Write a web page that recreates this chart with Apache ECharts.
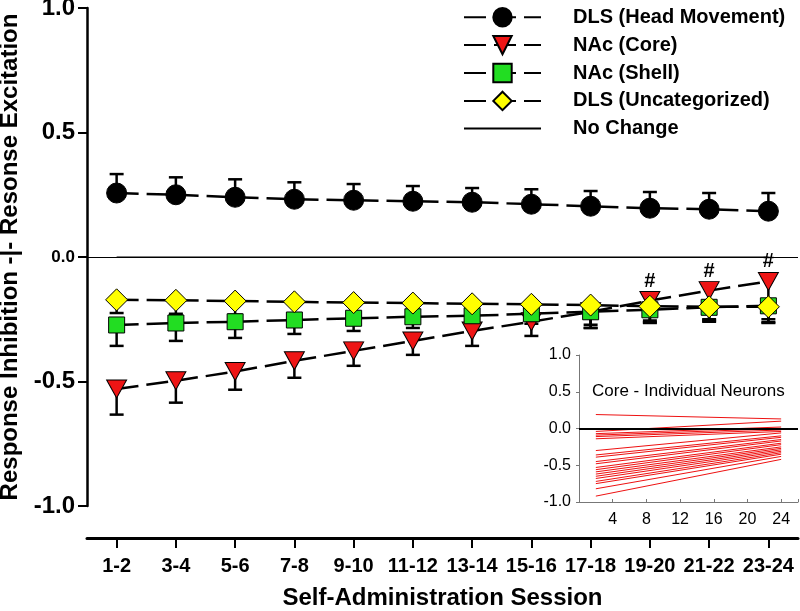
<!DOCTYPE html>
<html>
<head>
<meta charset="utf-8">
<script src="https://cdn.jsdelivr.net/npm/echarts@6/dist/echarts.min.js"></script>
<style>
html,body{margin:0;padding:0;background:#fff;}
#chart{width:800px;height:611px;}
</style>
</head>
<body>
<div id="chart"></div>
<script>
// ---- Data ----
var categories = ['1-2','3-4','5-6','7-8','9-10','11-12','13-14','15-16','17-18','19-20','21-22','23-24'];
var headMean   = [0.257, 0.250, 0.240, 0.232, 0.228, 0.224, 0.220, 0.212, 0.204, 0.196, 0.192, 0.184];
var headErrTop = [0.333, 0.320, 0.312, 0.300, 0.293, 0.285, 0.277, 0.272, 0.265, 0.261, 0.257, 0.257];
var coreMean   = [-0.530, -0.497, -0.460, -0.417, -0.377, -0.337, -0.297, -0.260, -0.220, -0.175, -0.135, -0.098];
var coreErrLow = [-0.633, -0.585, -0.533, -0.485, -0.437, -0.393, -0.357, -0.317, -0.285, -0.262, -0.255, -0.265];
var shellMean  = [-0.273, -0.265, -0.260, -0.253, -0.246, -0.240, -0.236, -0.228, -0.220, -0.212, -0.202, -0.196];
var shellErrLow= [-0.357, -0.337, -0.325, -0.309, -0.297, -0.285, -0.275, -0.268, -0.285, -0.265, -0.260, -0.262];
var uncMean    = [-0.172, -0.174, -0.177, -0.180, -0.183, -0.185, -0.188, -0.190, -0.193, -0.198, -0.200, -0.200];
var uncErrLow  = [-0.225, -0.228, -0.232, -0.235, -0.238, -0.240, -0.245, -0.250, -0.272, -0.255, -0.250, -0.250];
var sigIndex   = [9, 10, 11];
var yTicks     = [-1.0, -0.5, 0.0, 0.5, 1.0];
// Inset: individual core neurons, value at session 2 and session 24
var neuronX     = [2, 24];
var neuronStart = [0.19, -0.04, -0.07, -0.09, -0.11, -0.14, -0.30, -0.36, -0.39, -0.45, -0.48, -0.53, -0.56, -0.59, -0.62, -0.65, -0.68, -0.72, -0.75, -0.82, -0.92];
var neuronEnd   = [0.13, 0.10, 0.02, 0.00, -0.02, -0.04, -0.06, -0.10, -0.12, -0.15, -0.17, -0.20, -0.22, -0.25, -0.27, -0.29, -0.31, -0.33, -0.35, -0.38, -0.42];

var FONT = '"Liberation Sans", Arial, sans-serif';
var RED = '#ee1515', GREEN = '#22dd22', YELLOW = '#ffff00';
var TRI_DOWN = 'path://M0,0L20,0L10,18Z';

function errRender(params, api) {
  var x = api.value(0), v = api.value(1), e = api.value(2);
  var p1 = api.coord([x, v]), p2 = api.coord([x, e]);
  var hw = 7;
  return {
    type: 'group',
    children: [
      {type: 'line', shape: {x1: p1[0], y1: p1[1], x2: p2[0], y2: p2[1]}, style: {stroke: '#000', lineWidth: 2.5}},
      {type: 'line', shape: {x1: p2[0] - hw, y1: p2[1], x2: p2[0] + hw, y2: p2[1]}, style: {stroke: '#000', lineWidth: 2.5}}
    ]
  };
}
function errData(mean, err) {
  return mean.map(function (m, i) { return [i, m, err[i]]; });
}
function errSeries(name, mean, err) {
  return {
    name: name, type: 'custom', renderItem: errRender, data: errData(mean, err),
    encode: {x: 0, y: [1, 2]}, silent: true, xAxisIndex: 0, yAxisIndex: 0
  };
}
function dashLine(name, data, symbol, size, color) {
  return {
    name: name, type: 'line', data: data, symbol: symbol, symbolSize: size,
    xAxisIndex: 0, yAxisIndex: 0,
    lineStyle: {color: '#000', width: 2.5, type: [22, 8]},
    itemStyle: {color: color, borderColor: '#000', borderWidth: 1},
    showSymbol: true
  };
}

var series = [
  {
    name: 'No Change', type: 'line', data: categories.map(function () { return 0; }),
    symbol: 'none', xAxisIndex: 0, yAxisIndex: 0,
    lineStyle: {color: '#000', width: 1.2, type: 'solid'},
    itemStyle: {color: '#000'},
    markLine: {silent: true, symbol: ['none', 'none'], label: {show: false},
      lineStyle: {color: '#000', width: 1.2, type: 'solid'}, data: [{yAxis: 0}]}
  },
  errSeries('err-head', headMean, headErrTop),
  dashLine('DLS (Head Movement)', headMean, 'circle', 20, '#000'),
  errSeries('err-core', coreMean, coreErrLow),
  (function () {
    var s = dashLine('NAc (Core)', coreMean, TRI_DOWN, [20, 18], RED);
    s.label = {
      show: true, position: 'top', distance: 0,
      fontFamily: FONT, fontWeight: 'bold', fontSize: 20, color: '#000',
      formatter: function (p) { return sigIndex.indexOf(p.dataIndex) >= 0 ? '#' : ''; }
    };
    return s;
  })(),
  errSeries('err-shell', shellMean, shellErrLow),
  dashLine('NAc (Shell)', shellMean, 'rect', 16, GREEN),
  errSeries('err-unc', uncMean, uncErrLow),
  dashLine('DLS (Uncategorized)', uncMean, 'diamond', 22, YELLOW)
];

neuronStart.forEach(function (s, i) {
  var item = {
    name: 'neuron' + i, type: 'line', xAxisIndex: 1, yAxisIndex: 1,
    data: [[neuronX[0], s], [neuronX[1], neuronEnd[i]]],
    symbol: 'none', silent: true,
    lineStyle: {color: '#ee1111', width: 1}
  };
  if (i === 0) {
    item.markLine = {silent: true, symbol: ['none', 'none'], label: {show: false},
      lineStyle: {color: '#000', width: 2, type: 'solid'}, data: [{yAxis: 0}]};
  }
  series.push(item);
});

var chart = echarts.init(document.getElementById('chart'), null, {renderer: 'canvas'});
chart.setOption({
  animation: false,
  backgroundColor: '#fff',
  textStyle: {fontFamily: FONT},
  grid: [
    {left: 87, right: 2, top: 8, bottom: 105, containLabel: false, outerBoundsMode: 'none'},
    {left: 579, right: 2, top: 355, bottom: 109, containLabel: false, outerBoundsMode: 'none'}
  ],
  legend: {
    orient: 'vertical', left: 463, top: 7, padding: 0,
    itemWidth: 77, itemHeight: 23, itemGap: 7.5,
    textStyle: {fontFamily: FONT, fontWeight: 'bold', fontSize: 20, color: '#000', padding: [0, 0, 0, 27]},
    data: [
      {name: 'DLS (Head Movement)'},
      {name: 'NAc (Core)'},
      {name: 'NAc (Shell)'},
      {name: 'DLS (Uncategorized)'},
      {name: 'No Change', itemStyle: {opacity: 0}}
    ]
  },
  graphic: [{
    type: 'text', left: 592, top: 383,
    style: {text: 'Core - Individual Neurons', font: '17px "Liberation Sans", Arial, sans-serif', fill: '#000'}
  }],
  xAxis: [
    {
      type: 'category', gridIndex: 0, data: categories, position: 'bottom', offset: 32,
      boundaryGap: true,
      axisLine: {show: true, onZero: false, lineStyle: {color: '#000', width: 3}},
      axisTick: {show: true, alignWithLabel: true, length: 10, lineStyle: {color: '#000', width: 2}},
      axisLabel: {interval: 0, margin: 18, fontFamily: FONT, fontWeight: 'bold', fontSize: 20, color: '#000'},
      splitLine: {show: false},
      name: 'Self-Administration Session', nameLocation: 'middle', nameGap: 48,
      nameTextStyle: {fontFamily: FONT, fontWeight: 'bold', fontSize: 24, color: '#000'}
    },
    {
      type: 'value', gridIndex: 1, min: 0, max: 26, interval: 4,
      axisLine: {show: true, onZero: false, lineStyle: {color: '#777', width: 1}},
      axisTick: {show: true, inside: true, length: 3, lineStyle: {color: '#777'}},
      axisLabel: {margin: 10, fontFamily: FONT, fontSize: 16, color: '#000',
        formatter: function (v) { return (v === 0 || v > 24) ? '' : String(v); }},
      splitLine: {show: false}
    }
  ],
  yAxis: [
    {
      type: 'value', gridIndex: 0, min: yTicks[0], max: yTicks[yTicks.length - 1], interval: 0.5,
      axisLine: {show: true, onZero: false, lineStyle: {color: '#000', width: 2.5}},
      axisTick: {show: true, length: 9, lineStyle: {color: '#000', width: 2}},
      axisLabel: {
        margin: 12, color: '#000',
        formatter: function (v) {
          var s = v.toFixed(1);
          return Math.abs(v) < 1e-9 ? '{s|' + s + '}' : '{b|' + s + '}';
        },
        rich: {
          b: {fontFamily: FONT, fontWeight: 'bold', fontSize: 24, color: '#000'},
          s: {fontFamily: FONT, fontWeight: 'bold', fontSize: 17, color: '#000'}
        }
      },
      splitLine: {show: false},
      name: 'Response Inhibition -|- Resonse Excitation', nameLocation: 'middle', nameGap: 56,
      nameTextStyle: {fontFamily: FONT, fontWeight: 'bold', fontSize: 24, color: '#000'}
    },
    {
      type: 'value', gridIndex: 1, min: -1, max: 1, interval: 0.5,
      axisLine: {show: true, onZero: false, lineStyle: {color: '#777', width: 1}},
      axisTick: {show: true, length: 3, lineStyle: {color: '#777'}},
      axisLabel: {margin: 8, fontFamily: FONT, fontSize: 16, color: '#000',
        formatter: function (v) { return v.toFixed(1); }},
      splitLine: {show: false}
    }
  ],
  series: series
});
</script>
</body>
</html>
